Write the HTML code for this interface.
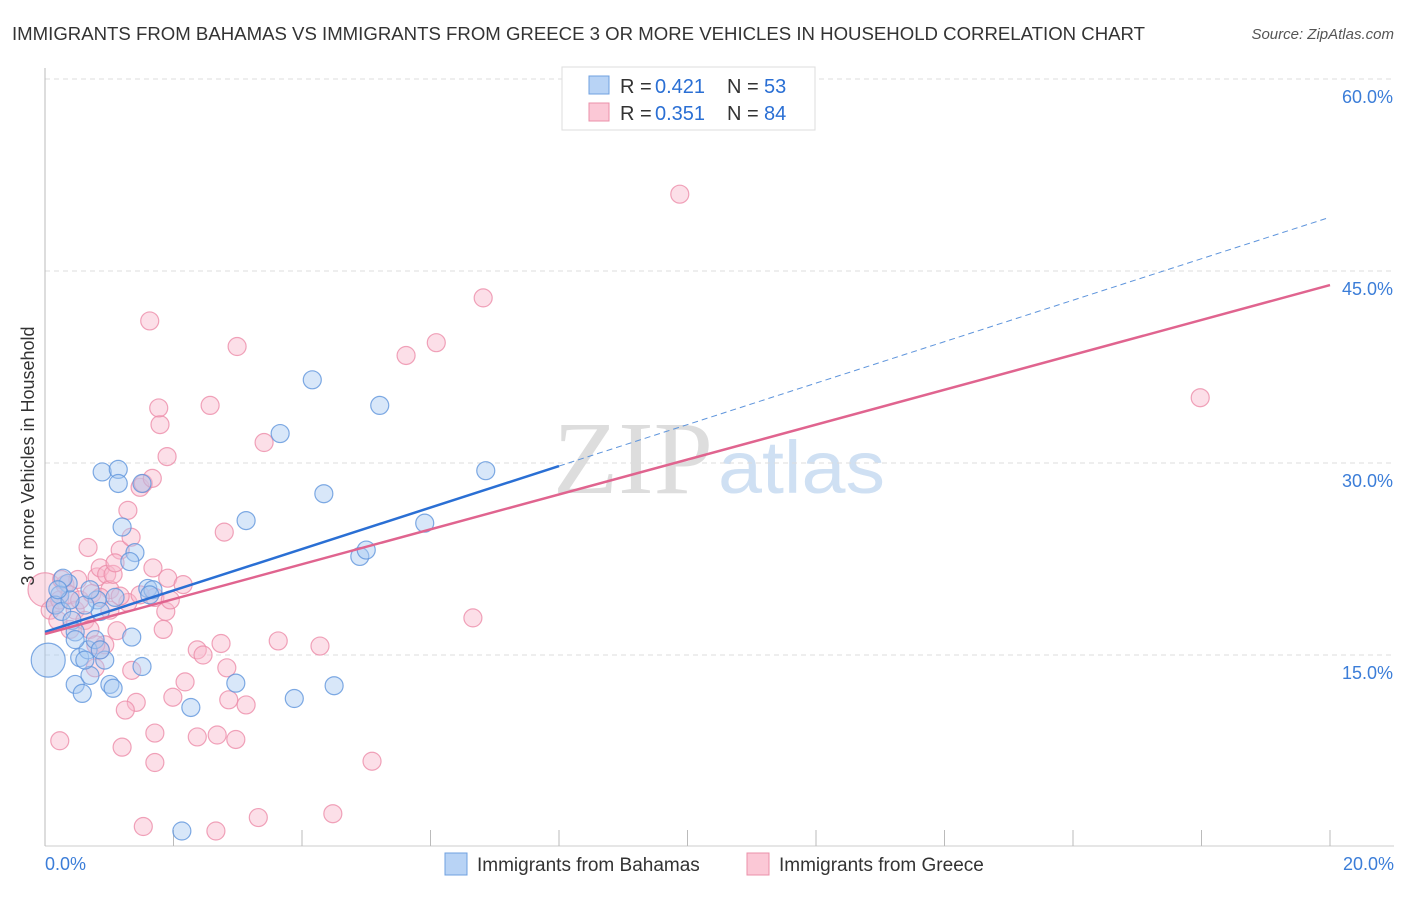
<!DOCTYPE html>
<html><head><meta charset="utf-8"><style>
body{margin:0;background:#fff;font-family:"Liberation Sans",sans-serif;}
svg text{font-family:"Liberation Sans",sans-serif;}
</style></head><body>
<svg id="chart" width="1406" height="892" xmlns="http://www.w3.org/2000/svg">
<text x="12" y="40" font-size="18" fill="#333" textLength="1133" lengthAdjust="spacingAndGlyphs">IMMIGRANTS FROM BAHAMAS VS IMMIGRANTS FROM GREECE 3 OR MORE VEHICLES IN HOUSEHOLD CORRELATION CHART</text>
<text x="1394" y="39" font-size="15" fill="#555" font-style="italic" text-anchor="end">Source: ZipAtlas.com</text>
<g>
<text x="553" y="493" font-size="104" fill="#ddd" style="font-family:'Liberation Serif',serif" textLength="160" lengthAdjust="spacingAndGlyphs">ZIP</text>
<text x="718" y="493" font-size="74" fill="#cfe0f3" textLength="167" lengthAdjust="spacingAndGlyphs">atlas</text>
</g>
<g id="grid"></g>
<g id="axes"></g>
<g id="pts"></g>
<g id="lines"></g>
<text transform="translate(34,456) rotate(-90)" font-size="18" fill="#333" text-anchor="middle">3 or more Vehicles in Household</text>
<g>
<rect x="562" y="67" width="253" height="63" fill="#fff" stroke="#ddd"/>
<rect x="589" y="76" width="20" height="18" fill="#b8d3f5" stroke="#6fa0e0"/>
<rect x="589" y="103" width="20" height="18" fill="#fbc8d6" stroke="#eb90aa"/>
<text x="620" y="93" font-size="20" fill="#333">R =</text>
<text x="655" y="93" font-size="20" fill="#2a6fd4">0.421</text>
<text x="727" y="93" font-size="20" fill="#333">N =</text>
<text x="764" y="93" font-size="20" fill="#2a6fd4">53</text>
<text x="620" y="120" font-size="20" fill="#333">R =</text>
<text x="655" y="120" font-size="20" fill="#2a6fd4">0.351</text>
<text x="727" y="120" font-size="20" fill="#333">N =</text>
<text x="764" y="120" font-size="20" fill="#2a6fd4">84</text>
</g>
<g>
<rect x="445" y="853" width="22" height="22" fill="#b8d3f5" stroke="#6fa0e0"/>
<text x="477" y="871" font-size="19" fill="#333">Immigrants from Bahamas</text>
<rect x="747" y="853" width="22" height="22" fill="#fbc8d6" stroke="#eb90aa"/>
<text x="779" y="871" font-size="19" fill="#333">Immigrants from Greece</text>
</g>
</svg>
<script>
const yTicks=[15,30,45,60];
const yTickLabels=["15.0%","30.0%","45.0%","60.0%"];
const xTicks=[0,2,4,6,8,10,12,14,16,18,20];
const blueX=[0.05,0.36,0.23,0.16,0.26,0.42,0.47,0.54,0.47,0.58,0.70,0.67,0.81,0.86,0.93,0.89,1.14,1.14,1.20,1.40,1.32,1.60,1.68,1.51,1.35,1.01,1.06,1.51,1.09,2.97,2.27,2.13,3.13,3.66,4.16,4.34,3.88,4.50,4.90,5.00,5.21,5.91,6.86,0.62,0.70,0.39,0.28,0.20,0.78,0.86,1.63,0.62,0.47];
const blueY=[14.6,20.6,19.7,18.9,18.4,17.7,16.8,14.8,12.7,12.0,13.4,15.4,19.3,18.4,14.6,29.3,29.5,28.4,25.0,23.0,22.3,20.2,20.1,28.4,16.4,12.7,12.4,14.1,19.5,12.8,10.9,1.25,25.5,32.3,36.5,27.6,11.6,12.6,22.7,23.2,34.5,25.3,29.4,18.9,20.1,19.3,21.0,20.1,16.2,15.4,19.7,14.6,16.2];
const pinkX=[0.0,0.08,0.16,0.23,0.31,0.39,0.47,0.54,0.62,0.39,0.70,0.20,0.67,0.81,0.86,0.96,1.01,1.06,1.17,1.09,1.29,1.34,1.48,1.53,1.67,1.68,1.91,2.15,1.71,1.88,1.84,1.90,1.79,1.77,1.63,2.57,2.99,3.41,2.79,1.12,1.29,0.86,0.93,0.78,1.35,1.42,1.25,1.71,1.20,0.23,1.71,1.99,2.18,2.37,2.46,2.74,2.83,2.86,3.13,2.37,2.68,2.97,3.63,4.28,5.62,6.09,6.82,6.66,5.09,4.48,3.32,2.66,1.53,9.88,17.98,0.73,0.51,0.26,0.86,1.01,1.17,1.48,1.95,0.79];
const pinkY=[20.1,18.5,18.9,19.3,20.5,19.7,18.5,19.3,17.7,17.0,17.0,17.7,23.4,21.1,21.8,21.3,20.1,21.3,23.2,22.2,26.3,24.2,28.1,28.4,28.8,21.8,21.0,20.5,19.5,18.4,17.0,30.5,33.0,34.3,41.1,34.5,39.1,31.6,24.6,16.9,19.1,15.4,15.8,14.0,13.8,11.3,10.7,8.9,7.8,8.3,6.6,11.7,12.9,15.4,15.0,15.9,14.0,11.5,11.1,8.6,8.75,8.4,16.1,15.7,38.4,39.4,42.9,17.9,6.7,2.6,2.3,1.25,1.6,51.0,35.1,19.8,20.9,20.9,19.5,18.5,19.6,19.7,19.3,15.8];
const blueTrend=[16.8,49.2];
const pinkTrend=[16.64,43.9];
const blueSolidEnd=8.0;
const NS="http://www.w3.org/2000/svg";
const X=v=>45+v*64.25, Y=v=>847-v*12.8;
function mk(tag,attrs,parent){const e=document.createElementNS(NS,tag);for(const k in attrs)e.setAttribute(k,attrs[k]);parent.appendChild(e);return e;}
const grid=document.getElementById('grid'),axes=document.getElementById('axes'),pts=document.getElementById('pts'),lines=document.getElementById('lines');
yTicks.forEach((t,i)=>{
 const l=mk('line',{x1:45,x2:1394,y1:Y(t),y2:Y(t),stroke:'#ddd','stroke-dasharray':'5,4'},grid);
 
 
 const tx=mk('text',{x:1393,y:Y(t)+24,'font-size':18,fill:'#3b7dd8','text-anchor':'end'},grid);
 tx.textContent=yTickLabels[i];
 
 
});
const la=mk('line',{x1:45,x2:45,y1:68,y2:846,stroke:'#bbb'},axes);


const ba=mk('line',{x1:45,x2:1394,y1:846,y2:846,stroke:'#ccc'},axes);


xTicks.forEach(t=>{
 const l=mk('line',{x1:X(t),x2:X(t),y1:830,y2:846,stroke:'#bbb'},axes);
 
 
});
[[0,'0.0%','start',45],[20,'20.0%','end',1394]].forEach(a=>{
 const tx=mk('text',{x:a[3],y:870,'font-size':18,fill:'#3b7dd8','text-anchor':a[2]},axes);
 tx.textContent=a[1];
 
 
});
function draw(xs,ys,fill,stroke,name){
 xs.forEach((x,i)=>{
  const r=(i===0)?17:9;
  const c=mk('circle',{cx:X(x),cy:Y(ys[i]),r:r,fill:fill,'fill-opacity':0.45,stroke:stroke,'stroke-width':1.2,'stroke-opacity':0.8},pts);
  
  
 });
}
draw(pinkX,pinkY,'#f9b8cb','#ec8ca9','greece-point');
draw(blueX,blueY,'#a9c9f2','#5f95dc','bahamas-point');
const ty=(tr,x)=>tr[0]+(tr[1]-tr[0])*x/20;
const b1=mk('line',{x1:X(0),y1:Y(ty(blueTrend,0)),x2:X(blueSolidEnd),y2:Y(ty(blueTrend,blueSolidEnd)),stroke:'#2a6fd4','stroke-width':2.5},lines);


const b2=mk('line',{x1:X(blueSolidEnd),y1:Y(ty(blueTrend,blueSolidEnd)),x2:X(19.95),y2:Y(ty(blueTrend,19.95)),stroke:'#5f95dc','stroke-width':1,'stroke-dasharray':'6,4'},lines);


const p1=mk('line',{x1:X(0),y1:Y(ty(pinkTrend,0)),x2:X(20),y2:Y(ty(pinkTrend,20)),stroke:'#e0648f','stroke-width':2.5},lines);


</script>
</body></html>
